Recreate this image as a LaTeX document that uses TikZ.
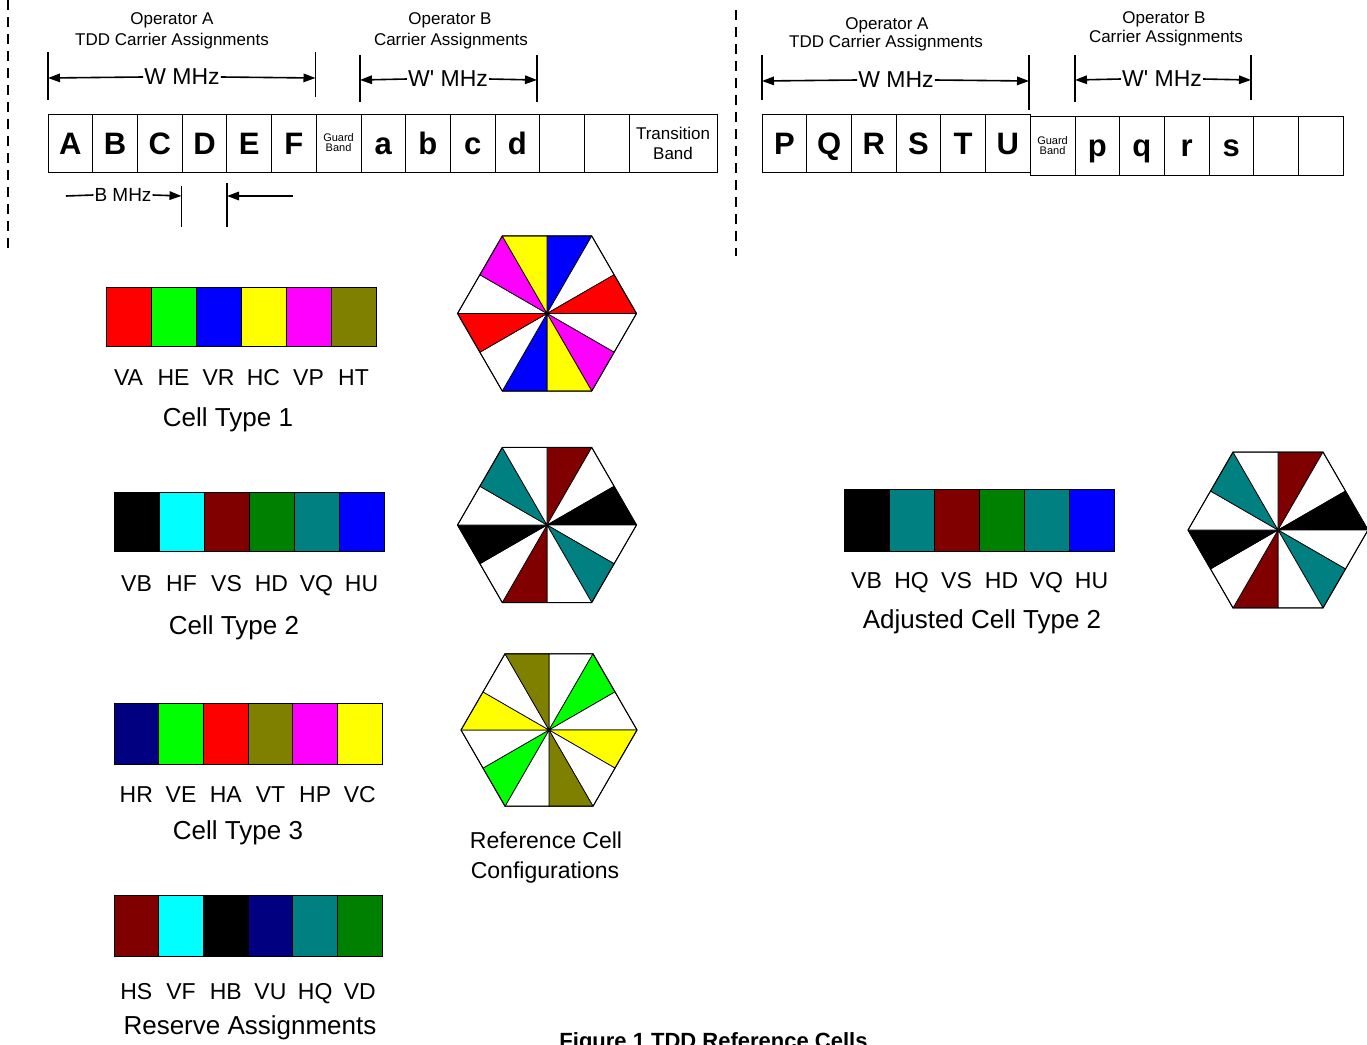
\documentclass[tikz,border=0pt]{standalone}
\usepackage{fontspec}
\setmainfont{Liberation Sans}
\usetikzlibrary{arrows.meta}

\definecolor{mRed}{RGB}{255,0,0}
\definecolor{mLime}{RGB}{0,255,0}
\definecolor{mBlue}{RGB}{0,0,255}
\definecolor{mYellow}{RGB}{255,255,0}
\definecolor{mMagenta}{RGB}{255,0,255}
\definecolor{mOlive}{RGB}{128,128,0}
\definecolor{mCyan}{RGB}{0,255,255}
\definecolor{mMaroon}{RGB}{128,0,0}
\definecolor{mGreen}{RGB}{0,128,0}
\definecolor{mTeal}{RGB}{0,128,128}
\definecolor{mNavy}{RGB}{0,0,128}

% font size in picture units (1 unit = 1pt)
\newcommand\pxfont[1]{\fontsize{#1}{#1}\selectfont}

% hexagonal cell split into 12 wedges, colours listed clockwise from the top
% #1,#2 centre  #3 circumradius  #4 colour list
\newcommand\hexcell[4]{%
  \begin{scope}[shift={(#1,#2)}]
    \foreach \c [count=\k from 0] in {#4} {
      \pgfmathsetmacro\aa{-90+30*\k}
      \pgfmathsetmacro\ab{-60+30*\k}
      \pgfmathsetmacro\ra{mod(\k,2)==0 ? 0.8660254*#3 : #3}
      \pgfmathsetmacro\rb{mod(\k,2)==0 ? #3 : 0.8660254*#3}
      \filldraw[fill=\c, draw=black, line width=0.7pt, line join=round]
        (0,0) -- (\aa:\ra) -- (\ab:\rb) -- cycle;
    }
    \draw[line width=1pt, line join=round]
      (0:#3) -- (60:#3) -- (120:#3) -- (180:#3) -- (240:#3) -- (300:#3) -- cycle;
  \end{scope}}

% colour bar with channel labels
% #1 name  #2 x0  #3 y0  #4 cell width  #5 height  #6 colour/label list  #7 label y
\newcommand\colorbar[7]{%
  \foreach \c/\t [count=\k from 0] in {#6} {
    \node[barcell, fill=\c, minimum width=#4, minimum height=#5]
      (#1c\k) at ({#2+(\k+0.5)*#4}, {#3+#5/2}) {};
    \node[barlabel] (#1l\k) at ({#2+(\k+0.5)*#4}, #7) {\t};
  }}

\begin{document}
\begin{tikzpicture}[x=1pt, y=-1pt,
  tick/.style={line width=1.5pt},
  dimarrow/.style={line width=1.6pt, -{Triangle[length=12pt,width=8.5pt]}},
  dimline/.style={line width=1.6pt},
  dimtext/.style={inner sep=1pt, font=\pxfont{23}},
  smalltext/.style={inner sep=1pt, font=\pxfont{19}},
  headtext/.style={inner sep=0pt, font=\pxfont{17}, text height=12.2pt, text depth=0pt},
  bandcell/.style={draw, line width=0.8pt, inner sep=0pt, minimum width=44.7pt,
    font=\bfseries\pxfont{31}, text height=22.2pt, text depth=0pt},
  barcell/.style={draw, line width=0.8pt, inner sep=0pt},
  barlabel/.style={inner sep=0pt, font=\pxfont{23}, text height=16.5pt, text depth=0pt},
  titletext/.style={inner sep=0pt, font=\pxfont{26}, text height=18.6pt, text depth=0pt},
  divider/.style={line width=1.2pt, dash pattern=on 10pt off 7pt}
]
\useasboundingbox (0,0) rectangle (1367,1044);

% ---------------- dashed dividers ----------------
\coordinate (d1a) at (8,0);   \coordinate (d1b) at (8,252);
\coordinate (d2a) at (736,10); \coordinate (d2b) at (736,256);
\draw[divider] (d1a) -- (d1b);
\draw[divider] (d2a) -- (d2b);

% ---------------- left carrier band ----------------
\node[headtext] (lopA1) at (172,18) {Operator A};
\node[headtext] (lopA2) at (172,39) {TDD Carrier Assignments};
\node[headtext] (lopB1) at (450,18) {Operator B};
\node[headtext] (lopB2) at (451,39) {Carrier Assignments};

\foreach \t [count=\k from 0] in {A,B,C,D,E,F}
  \node[bandcell, minimum height=58pt] (lb\k) at ({48+(\k+0.5)*44.7},143) {\t};
\node[draw, line width=0.8pt, inner sep=0pt, minimum width=44.7pt, minimum height=58pt,
  align=center, font=\pxfont{11}] (lguard) at ({48+6.5*44.7},143) {Guard\\[-1pt]Band};
\foreach \t [count=\k from 7] in {a,b,c,d,{},{}}
  \node[bandcell, minimum height=58pt] (lb\k) at ({48+(\k+0.5)*44.7},143) {\t};
\node[draw, line width=0.8pt, inner sep=0pt, minimum width=87.9pt, minimum height=58pt,
  align=center, font=\pxfont{17}] (ltrans) at (673.05,143) {Transition\\[3pt]Band};

% W MHz
\coordinate (lwLt) at (48,52);  \coordinate (lwLb) at (48,100);
\coordinate (lwRt) at (315.5,52); \coordinate (lwRb) at (315.5,97);
\coordinate (lwL) at (48,78);   \coordinate (lwR) at (315.5,78);
\draw[tick] (lwLt) -- (lwLb);
\draw[tick] (lwRt) -- (lwRb);
\node[dimtext] (lwtxt) at (182,77) {W MHz};
\draw[dimarrow] (lwtxt.west) -- (lwL);
\draw[dimarrow] (lwtxt.east) -- (lwR);

% W' MHz
\coordinate (lvLt) at (360,55);  \coordinate (lvLb) at (360,102);
\coordinate (lvRt) at (537,55);  \coordinate (lvRb) at (537,102);
\coordinate (lvL) at (360,80);   \coordinate (lvR) at (537,80);
\draw[tick] (lvLt) -- (lvLb);
\draw[tick] (lvRt) -- (lvRb);
\node[dimtext] (lvtxt) at (448,79) {W\textquotesingle{} MHz};
\draw[dimarrow] (lvtxt.west) -- (lvL);
\draw[dimarrow] (lvtxt.east) -- (lvR);

% B MHz
\coordinate (bLt) at (181.5,186); \coordinate (bLb) at (181.5,227);
\coordinate (bRt) at (227,183);   \coordinate (bRb) at (227,227);
\coordinate (bL) at (181.5,196);  \coordinate (bR) at (227,196);
\coordinate (bS) at (66,196);     \coordinate (bE) at (293,196);
\draw[tick] (bLt) -- (bLb);
\draw[tick] (bRt) -- (bRb);
\node[smalltext] (btxt) at (123,195) {B MHz};
\draw[dimline] (bS) -- (btxt.west);
\draw[dimarrow] (btxt.east) -- (bL);
\draw[dimarrow] (bE) -- (bR);

% ---------------- right carrier band ----------------
\node[headtext] (ropA1) at (887,23) {Operator A};
\node[headtext] (ropA2) at (886,41) {TDD Carrier Assignments};
\node[headtext] (ropB1) at (1164,17) {Operator B};
\node[headtext] (ropB2) at (1166,36) {Carrier Assignments};

\foreach \t [count=\k from 0] in {P,Q,R,S,T,U}
  \node[bandcell, minimum height=58pt] (rb\k) at ({762+(\k+0.5)*44.7},143) {\t};
\node[draw, line width=0.8pt, inner sep=0pt, minimum width=44.7pt, minimum height=59pt,
  align=center, font=\pxfont{11}] (rguard) at ({762+6.5*44.7},145.5) {Guard\\[-1pt]Band};
\foreach \t [count=\k from 7] in {p,q,r,s,{},{}}
  \node[bandcell, minimum height=59pt] (rb\k) at ({762+(\k+0.5)*44.7},145.5) {\t};

% W MHz
\coordinate (rwLt) at (762,55);   \coordinate (rwLb) at (762,100);
\coordinate (rwRt) at (1029,55);  \coordinate (rwRb) at (1029,110);
\coordinate (rwL) at (762,81);    \coordinate (rwR) at (1029,81);
\draw[tick] (rwLt) -- (rwLb);
\draw[tick] (rwRt) -- (rwRb);
\node[dimtext] (rwtxt) at (896,80) {W MHz};
\draw[dimarrow] (rwtxt.west) -- (rwL);
\draw[dimarrow] (rwtxt.east) -- (rwR);

% W' MHz
\coordinate (rvLt) at (1075,55);  \coordinate (rvLb) at (1075,102);
\coordinate (rvRt) at (1251,55);  \coordinate (rvRb) at (1251,100);
\coordinate (rvL) at (1075,80);   \coordinate (rvR) at (1251,80);
\draw[tick] (rvLt) -- (rvLb);
\draw[tick] (rvRt) -- (rvRb);
\node[dimtext] (rvtxt) at (1162,79) {W\textquotesingle{} MHz};
\draw[dimarrow] (rvtxt.west) -- (rvL);
\draw[dimarrow] (rvtxt.east) -- (rvR);

% ---------------- colour bars ----------------
\colorbar{ct1}{106}{287}{45}{59}
  {mRed/VA, mLime/HE, mBlue/VR, mYellow/HC, mMagenta/VP, mOlive/HT}{377}
\node[titletext] (ct1t) at (228,417) {Cell Type 1};

\colorbar{ct2}{114}{492}{45}{59}
  {black/VB, mCyan/HF, mMaroon/VS, mGreen/HD, mTeal/VQ, mBlue/HU}{583}
\node[titletext] (ct2t) at (234,625) {Cell Type 2};

\colorbar{ct3}{114}{703}{44.7}{61}
  {mNavy/HR, mLime/VE, mRed/HA, mOlive/VT, mMagenta/HP, mYellow/VC}{794}
\node[titletext] (ct3t) at (238,830) {Cell Type 3};

\colorbar{res}{114}{895}{44.7}{61}
  {mMaroon/HS, mCyan/VF, black/HB, mNavy/VU, mTeal/HQ, mGreen/VD}{991}
\node[titletext] (rest) at (250,1025) {Reserve Assignments};

\colorbar{adj}{844}{489}{45}{62}
  {black/VB, mTeal/HQ, mMaroon/VS, mGreen/HD, mTeal/VQ, mBlue/HU}{580}
\node[titletext] (adjt) at (982,619) {Adjusted Cell Type 2};

% ---------------- hexagonal cells ----------------
\hexcell{547}{313.5}{89.5}{mBlue,white,mRed,white,mMagenta,mYellow,mBlue,white,mRed,white,mMagenta,mYellow}
\hexcell{547}{525}{89.5}{mMaroon,white,black,white,mTeal,white,mMaroon,white,black,white,mTeal,white}
\hexcell{549}{730}{88}{white,mLime,white,mYellow,white,mOlive,white,mLime,white,mYellow,white,mOlive}
\hexcell{1278}{530}{90}{mMaroon,white,black,white,mTeal,white,mMaroon,white,black,white,mTeal,white}

\node[inner sep=0pt, font=\pxfont{23}, text height=16.5pt, text depth=0pt] (ref1) at (546,840) {Reference Cell};
\node[inner sep=0pt, font=\pxfont{23}, text height=16.5pt, text depth=0pt] (ref2) at (545,870) {Configurations};

% ---------------- caption ----------------
\node[inner sep=0pt, anchor=base, font=\bfseries\pxfont{22}] (caption) at (713.5,1048) {Figure 1 TDD Reference Cells};
\end{tikzpicture}
\end{document}
